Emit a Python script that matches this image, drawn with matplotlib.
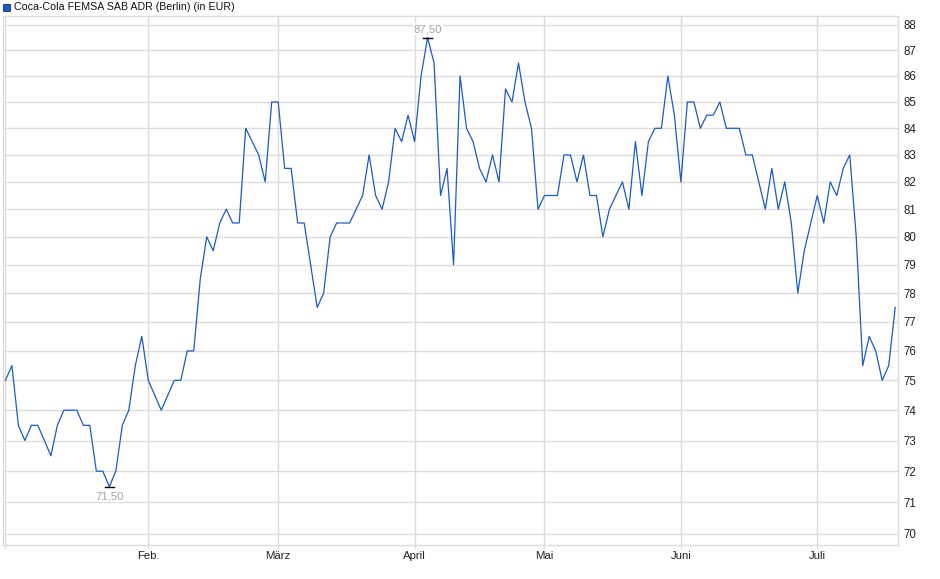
import numpy as np
import matplotlib
matplotlib.use("Agg")
import matplotlib.pyplot as plt
from matplotlib.ticker import FixedLocator, NullLocator

plt.rcParams['font.family'] = ['Liberation Sans', 'DejaVu Sans']

# Kurs in EUR, ein Wert pro Handelstag (Anfang Jan. bis Mitte Juli)
kurse = [
    75, 75.5, 73.5, 73, 73.5, 73.5, 73, 72.5, 73.5, 74,
    74, 74, 73.5, 73.5, 72, 72, 71.5, 72, 73.5, 74,
    75.5, 76.5, 75, 74.5, 74, 74.5, 75, 75, 76, 76,
    78.5, 80, 79.5, 80.5, 81, 80.5, 80.5, 84, 83.5, 83,
    82, 85, 85, 82.5, 82.5, 80.5, 80.5, 79, 77.5, 78,
    80, 80.5, 80.5, 80.5, 81, 81.5, 83, 81.5, 81, 82,
    84, 83.5, 84.5, 83.5, 86, 87.5, 86.5, 81.5, 82.5, 79,
    86, 84, 83.5, 82.5, 82, 83, 82, 85.5, 85, 86.5,
    85, 84, 81, 81.5, 81.5, 81.5, 83, 83, 82, 83,
    81.5, 81.5, 80, 81, 81.5, 82, 81, 83.5, 81.5, 83.5,
    84, 84, 86, 84.5, 82, 85, 85, 84, 84.5, 84.5,
    85, 84, 84, 84, 83, 83, 82, 81, 82.5, 81,
    82, 80.5, 78, 79.5, 80.5, 81.5, 80.5, 82, 81.5, 82.5,
    83, 80, 75.5, 76.5, 76, 75, 75.5, 77.5,
]

# Monatsanfang als Index des ersten Handelstags
monat_idx = [22, 42, 63, 83, 104, 125]
monat_txt = ["Feb.", "März", "April", "Mai", "Juni", "Juli"]
y_ticks = list(range(70, 89))

titel = "Coca-Cola FEMSA SAB ADR (Berlin) (in EUR)"
blau = "#1a5bc4"
grau = "#dcdcdc"

x = np.arange(len(kurse))
kurse = np.array(kurse, dtype=float)

fig = plt.figure(figsize=(9.4, 5.79), dpi=100)
ax = fig.add_axes([3/940, 34/579, 895/940, 529/579])

ax.plot(x, kurse, color=blau, lw=0.9, zorder=3)

ax.set_yscale('log')
ax.set_ylim(69.65, 88.35)
ax.set_xlim(-0.37, len(kurse) - 1 + 0.43)

ax.yaxis.set_major_locator(FixedLocator(y_ticks))
ax.yaxis.set_minor_locator(NullLocator())
ax.set_yticklabels([str(v) for v in y_ticks])
ax.yaxis.tick_right()
ax.tick_params(axis='y', length=0, pad=4, labelsize=8.3, labelcolor='#222222')

ax.xaxis.set_major_locator(FixedLocator([0] + monat_idx))
ax.xaxis.set_minor_locator(NullLocator())
ax.set_xticklabels([""] + monat_txt)
ax.tick_params(axis='x', length=3, color=grau, pad=1.5, labelsize=8.2, labelcolor='#222222')

ax.grid(True, color=grau, lw=1.0, zorder=0)
for s in ax.spines.values():
    s.set_color(grau)
    s.set_linewidth(1.0)

# Hoch und Tief markieren
i_max = int(np.argmax(kurse))
i_min = int(np.argmin(kurse))
for i, off, va in [(i_max, 2.5, 'bottom'), (i_min, -3.5, 'top')]:
    ax.plot([i - 0.7, i + 0.7], [kurse[i], kurse[i]], color='black', lw=1.0, zorder=4)
    ax.annotate(f"{kurse[i]:.2f}".replace('.', ','), xy=(i, kurse[i]), xytext=(0, off),
                textcoords='offset points', ha='center', va=va, fontsize=8.2,
                color='#a0a4a8', zorder=5,
                bbox=dict(facecolor='white', edgecolor='none', pad=0.5))

# Legende oben links
fig.patches.append(plt.Rectangle((3/940, 1 - 11/579), 7/940, 7/579, transform=fig.transFigure,
                                 facecolor=blau, edgecolor='#203060', lw=0.6))
fig.text(14/940, 1 - 7.5/579, titel, ha='left', va='center', fontsize=7.7, color='#111111')

fig.savefig("out.png", dpi=100)
